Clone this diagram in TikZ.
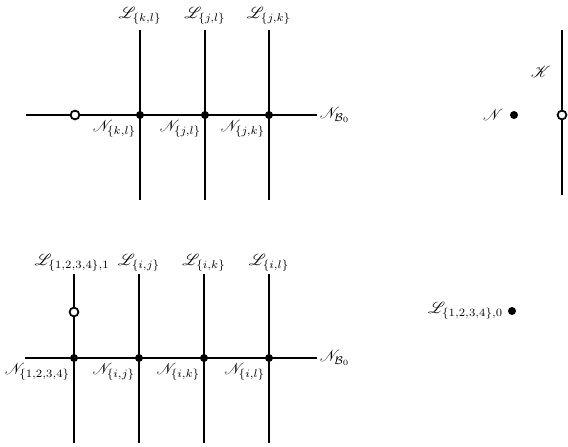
\documentclass[tikz,border=0pt]{standalone}
\usepackage{mathrsfs}
\begin{document}
\begin{tikzpicture}[x=0.625pt,y=-0.625pt,
  wire/.style={line width=1.2pt},
  fulldot/.style={circle,fill=black,inner sep=0pt,minimum size=5pt},
  opendot/.style={circle,draw=black,fill=white,line width=1.1pt,inner sep=0pt,minimum size=5.5pt},
  lab/.style={inner sep=1pt}]
\useasboundingbox (0,0) rectangle (568,446);
% ---------- top diagram ----------
\coordinate (tl) at (26,115);
\coordinate (tr) at (317,115);
\draw[wire] (tl) -- (tr);
\foreach \n/\x in {a/140,b/205,c/269}{
  \coordinate (t\n) at (\x,30);
  \coordinate (b\n) at (\x,200);
  \draw[wire] (t\n) -- (b\n);
  \node[fulldot] (d\n) at (\x,115) {};
}
\node[opendot] (o1) at (75,115) {};
\node[lab] (Lkl) at (140,16) {$\mathscr{L}_{\{k,l\}}$};
\node[lab] (Ljl) at (205,16) {$\mathscr{L}_{\{j,l\}}$};
\node[lab] (Ljk) at (269,16) {$\mathscr{L}_{\{j,k\}}$};
\node[lab,anchor=north east] (Nkl) at (138,118) {$\mathscr{N}_{\{k,l\}}$};
\node[lab,anchor=north east] (Njl) at (203,118) {$\mathscr{N}_{\{j,l\}}$};
\node[lab,anchor=north east] (Njk) at (267,118) {$\mathscr{N}_{\{j,k\}}$};
\node[lab,anchor=west] (NB1) at (318,115) {$\mathscr{N}_{\mathcal{B}_0}$};
% ---------- right top ----------
\coordinate (kt) at (562,30);
\coordinate (kb) at (562,195);
\draw[wire] (kt) -- (kb);
\node[opendot] (o2) at (562,115) {};
\node[lab] (K) at (541,72) {$\mathscr{K}$};
\node[fulldot] (dN) at (514,115) {};
\node[lab,anchor=east] (N) at (505,115) {$\mathscr{N}$};
% ---------- bottom diagram ----------
\coordinate (bl) at (25,358);
\coordinate (br) at (317,358);
\draw[wire] (bl) -- (br);
\foreach \n/\x in {e/74,f/139,g/204,h/269}{
  \coordinate (t\n) at (\x,274);
  \coordinate (b\n) at (\x,443);
  \draw[wire] (t\n) -- (b\n);
  \node[fulldot] (d\n) at (\x,358) {};
}
\node[opendot] (o3) at (74,312) {};
\node[lab] (L1) at (72,263) {$\mathscr{L}_{\{1,2,3,4\},1}$};
\node[lab] (Lij) at (139,263) {$\mathscr{L}_{\{i,j\}}$};
\node[lab] (Lik) at (204,263) {$\mathscr{L}_{\{i,k\}}$};
\node[lab] (Lil) at (269,263) {$\mathscr{L}_{\{i,l\}}$};
\node[lab,anchor=north east] (N1234) at (72,361) {$\mathscr{N}_{\{1,2,3,4\}}$};
\node[lab,anchor=north east] (Nij) at (137,361) {$\mathscr{N}_{\{i,j\}}$};
\node[lab,anchor=north east] (Nik) at (202,361) {$\mathscr{N}_{\{i,k\}}$};
\node[lab,anchor=north east] (Nil) at (267,361) {$\mathscr{N}_{\{i,l\}}$};
\node[lab,anchor=west] (NB2) at (318,358) {$\mathscr{N}_{\mathcal{B}_0}$};
% ---------- right bottom ----------
\node[fulldot] (dL0) at (512,311) {};
\node[lab,anchor=east] (L0) at (505,311) {$\mathscr{L}_{\{1,2,3,4\},0}$};
\end{tikzpicture}
\end{document}
